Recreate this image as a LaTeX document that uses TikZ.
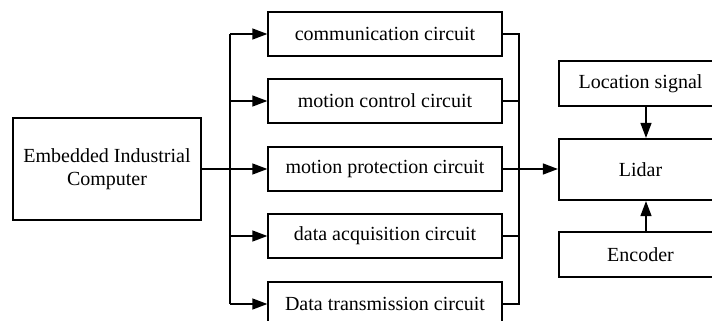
\documentclass[tikz,border=0pt]{standalone}
\usepackage{fontspec}
\setmainfont{Liberation Serif}
\usetikzlibrary{arrows.meta,calc}
\begin{document}
\begin{tikzpicture}[x=1pt,y=-1pt,
  txt/.style={font=\fontsize{20}{23}\selectfont},
  box/.style={draw,line width=1.3pt,inner sep=0pt,txt},
  midbox/.style={box,minimum width=234pt,minimum height=44pt},
  rbox/.style={draw,line width=2.2pt,inner sep=0pt,txt,minimum width=163pt},
  conn/.style={line width=1.3pt},
  arr/.style={conn,-{Triangle[length=15pt,width=11pt]}}
]
\useasboundingbox (0,0) rectangle (712,321);
\clip (0,0) rectangle (712,321);
\node[box,minimum width=188pt,minimum height=102pt,align=center] (emb) at (107,169) {Embedded Industrial\\Computer};
\node[midbox] (m1) at (385,34) {communication circuit};
\node[midbox] (m2) at (385,101) {motion control circuit};
\node[midbox] (m3) at (385,169) {motion protection circuit};
\node[midbox] (m4) at (385,236) {data acquisition circuit};
\node[midbox] (m5) at (385,304) {Data transmission circuit};
\node[rbox,minimum height=45pt] (loc) at (640.5,83.5) {Location signal};
\node[rbox,minimum height=61pt] (lidar) at (640.5,169.5) {Lidar};
\node[rbox,minimum height=45pt] (enc) at (640.5,254.5) {Encoder};
\coordinate (bl) at (230,0);
\coordinate (br) at (519,0);
\coordinate (ax) at (646,0);
% left bus
\draw[conn] (m1.west -| bl) -- (m5.west -| bl);
\draw[arr] (m1.west -| bl) -- (m1.west);
\draw[arr] (m2.west -| bl) -- (m2.west);
\draw[arr] (emb.east) -- (m3.west);
\draw[arr] (m4.west -| bl) -- (m4.west);
\draw[arr] (m5.west -| bl) -- (m5.west);
% right bus
\draw[conn] (m1.east) -- (m1.east -| br) -- (m5.east -| br) -- (m5.east);
\draw[conn] (m2.east) -- (m2.east -| br);
\draw[conn] (m3.east) -- (m3.east -| br);
\draw[conn] (m4.east) -- (m4.east -| br);
\draw[arr] (m3.east -| br) -- (lidar.west |- m3.east);
% right column
\draw[arr] (loc.south -| ax) -- (lidar.north -| ax);
\draw[arr] (enc.north -| ax) -- (lidar.south -| ax);
\end{tikzpicture}
\end{document}
